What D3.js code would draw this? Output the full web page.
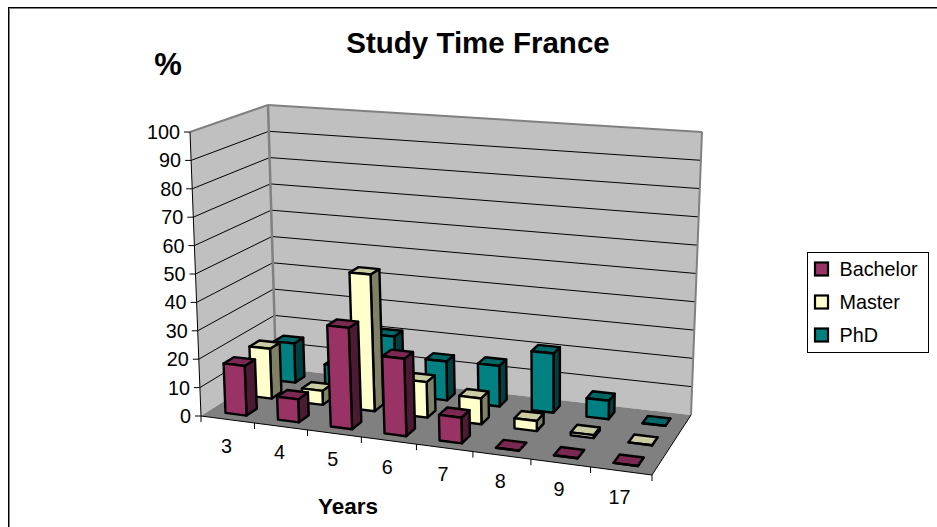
<!DOCTYPE html>
<html><head><meta charset="utf-8">
<script src="https://cdn.jsdelivr.net/npm/d3@7"></script>
<style>html,body{margin:0;padding:0;background:#fff;overflow:hidden}svg{display:block}text{font-family:"Liberation Sans",Arial,sans-serif;fill:#000}</style>
</head><body><svg id="c" width="937" height="527"></svg>
<script>
const categories = ["3","4","5","6","7","8","9","17"];
const seriesNames = ["Bachelor","Master","PhD"];
const bachelor = [17.5,8,35,26.5,8.7,0,0,0];
const master = [18,5,48.5,12.5,9,3.5,1,0];
const phd = [14.5,8,21,14,14.5,21,6.5,0];
const yTicks = [0,10,20,30,40,50,60,70,80,90,100];
const colors = {
  Bachelor:{front:"#993366",top:"#7a2952",side:"#4d1a33"},
  Master:{front:"#ffffcc",top:"#cccca3",side:"#808066"},
  PhD:{front:"#008080",top:"#006666",side:"#004040"}
};
const values = {Bachelor:bachelor,Master:master,PhD:phd};

function quad(p00,p10,p11,p01){
  const dx1=p10[0]-p11[0],dx2=p01[0]-p11[0],sx=p00[0]-p10[0]+p11[0]-p01[0];
  const dy1=p10[1]-p11[1],dy2=p01[1]-p11[1],sy=p00[1]-p10[1]+p11[1]-p01[1];
  const det=dx1*dy2-dx2*dy1;
  const g=(sx*dy2-dx2*sy)/det,h=(dx1*sy-sx*dy1)/det;
  const a=p10[0]-p00[0]+g*p10[0],b=p01[0]-p00[0]+h*p01[0],c=p00[0];
  const d=p10[1]-p00[1]+g*p10[1],e=p01[1]-p00[1]+h*p01[1],f=p00[1];
  return (u,v)=>{const w=g*u+h*v+1;return [(a*u+b*v+c)/w,(d*u+e*v+f)/w];};
}
const floorQ = quad([201,416],[652,475],[691,415],[276,368]);
const ceilQ  = quad([190,132],[662,168],[702,132],[268,105]);
const warp = d3.scalePow().exponent(0.97).domain([0,1]).range([0,1]);
const floor = (u,v)=>floorQ(warp(u),v);
const ceil = (u,v)=>ceilQ(warp(u),v);
const yScale = d3.scaleLinear().domain([0,100]).range([0,1]);
const uScale = d3.scaleBand().domain(categories).range([0,1]).paddingInner(0.6).paddingOuter(0.3);
const vScale = d3.scaleBand().domain(seriesNames).range([0,1]).paddingInner(0.6).paddingOuter(0.3);
const uCell = d3.scaleBand().domain(categories).range([0,1]);
function P(u,v,val){
  const t=yScale(val),a=floor(u,v),b=ceil(u,v);
  return [a[0]+(b[0]-a[0])*t,a[1]+(b[1]-a[1])*t];
}
const svg=d3.select("#c");
const line=d3.line();
const poly=(pts,fill,stroke,sw)=>svg.append("path").attr("d",line(pts)+"Z").attr("fill",fill).attr("stroke",stroke||"none").attr("stroke-width",sw||0).attr("stroke-linejoin","round");
const seg=(a,b,stroke,sw)=>svg.append("line").attr("x1",a[0]).attr("y1",a[1]).attr("x2",b[0]).attr("y2",b[1]).attr("stroke",stroke).attr("stroke-width",sw);

// outer frame: runs off the right and bottom of the picture
seg([8.5,7.5],[8.5,527],"#000",1);
seg([9.5,8],[9.5,527],"#808080",1);
seg([8,7.5],[937,7.5],"#000",1);
seg([9,8.5],[937,8.5],"#808080",1);

// walls and floor
poly([P(0,0,0),P(0,1,0),P(0,1,100),P(0,0,100)],"#c0c0c0");
poly([P(0,1,0),P(1,1,0),P(1,1,100),P(0,1,100)],"#c0c0c0");
poly([P(0,0,0),P(1,0,0),P(1,1,0),P(0,1,0)],"#808080");
yTicks.filter(d=>d>0&&d<100).forEach(d=>{
  seg(P(0,0,d),P(0,1,d),"#000",1);
  seg(P(0,1,d),P(1,1,d),"#000",1);
});
seg(P(0,1,0),P(0,1,100),"#808080",2.5);
seg(P(0,0,100),P(0,1,100),"#808080",2);
seg(P(0,1,100),P(1,1,100),"#808080",2);
seg(P(1,1,0),P(1,1,100),"#808080",2);

// axes
seg(P(0,0,0),P(0,0,100),"#000",1);
seg(P(0,0,0),P(1,0,0),"#000",1);
seg(P(1,0,0),P(1,1,0),"#000",1);
const tickLen=6;
yTicks.forEach(d=>{
  const p=P(0,0,d);
  seg([p[0]-tickLen,p[1]],p,"#000",1);
  svg.append("text").attr("x",p[0]-tickLen-4).attr("y",p[1]+7).attr("text-anchor","end").attr("font-size",19.8).text(d);
});
categories.forEach((c,i)=>{
  const left=uCell(c);
  const p=floor(left,0);
  seg(p,[p[0],p[1]+6],"#000",1);
  const m=floor(left+uCell.bandwidth()/2,0);
  svg.append("text").attr("x",m[0]-1.5).attr("y",m[1]+33).attr("text-anchor","middle").attr("font-size",19.8).text(c);
});
const last=floor(1,0);
seg(last,[last[0],last[1]+6],"#000",1);

// bars, back row first
seriesNames.slice().reverse().forEach(s=>{
  const col=colors[s];
  const v0=vScale(s),v1=v0+vScale.bandwidth();
  categories.forEach((c,i)=>{
    const u0=uScale(c),u1=u0+uScale.bandwidth(),h=values[s][i];
    const sw=2.4;
    poly([P(u1,v0,0),P(u1,v1,0),P(u1,v1,h),P(u1,v0,h)],col.side,"#000",sw);
    poly([P(u0,v0,h),P(u1,v0,h),P(u1,v1,h),P(u0,v1,h)],col.top,"#000",sw);
    poly([P(u0,v0,0),P(u1,v0,0),P(u1,v0,h),P(u0,v0,h)],col.front,"#000",sw);
  });
});

// titles
svg.append("text").attr("x",478).attr("y",53).attr("text-anchor","middle").attr("font-size",29.5).attr("font-weight","bold").text("Study Time France");
svg.append("text").attr("x",168).attr("y",75).attr("text-anchor","middle").attr("font-size",31).attr("font-weight","bold").text("%");
svg.append("text").attr("x",348).attr("y",514).attr("text-anchor","middle").attr("font-size",22.5).attr("font-weight","bold").text("Years");

// legend
svg.append("rect").attr("x",807.5).attr("y",252.5).attr("width",121).attr("height",100).attr("fill","#fff").attr("stroke","#000").attr("stroke-width",1);
const ly=d3.scalePoint().domain(seriesNames).range([269,335]);
seriesNames.forEach(s=>{
  svg.append("rect").attr("x",815).attr("y",ly(s)-6.5).attr("width",13).attr("height",13).attr("fill",colors[s].front).attr("stroke","#000").attr("stroke-width",2.2);
  svg.append("text").attr("x",839.5).attr("y",ly(s)+7).attr("font-size",19.8).text(s);
});
</script></body></html>
